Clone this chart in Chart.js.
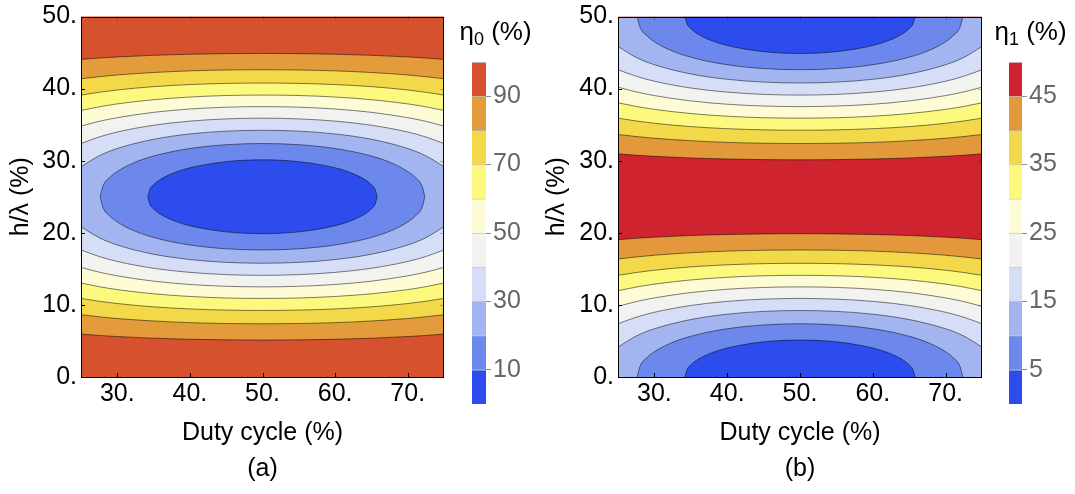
<!DOCTYPE html>
<html>
<head>
<meta charset="utf-8">
<script src="https://cdn.jsdelivr.net/npm/chart.js@4.4.1/dist/chart.umd.min.js"></script>
<style>
body { margin: 0; background: #fff; }
#page { position: relative; width: 1075px; height: 494px; overflow: hidden; }
canvas { position: absolute; top: 0; }
</style>
</head>
<body>
<div id="page">
<canvas id="plotA" width="452" height="494" style="left:0px"></canvas>
<canvas id="barA" width="85" height="494" style="left:455px"></canvas>
<canvas id="plotB" width="454" height="494" style="left:536px"></canvas>
<canvas id="barB" width="85" height="494" style="left:990px"></canvas>
</div>
<script>
var fontFamily = "'Liberation Sans', Arial, sans-serif";

// axes
var dutyTicks = [30, 40, 50, 60, 70];
var heightTicks = [0, 10, 20, 30, 40, 50];
var dutyGrid = [25, 27.5, 30, 35, 40, 45, 50, 55, 60, 65, 70, 72.5, 75];

// panel (a): eta0 contour curves, h/lambda read at each duty cycle of dutyGrid
var eta0BandLevels = [90, 80, 70, 60, 50, 40, 30];
var eta0BandLower = [
    [5.95, 5.76, 5.61, 5.38, 5.23, 5.15, 5.12, 5.15, 5.23, 5.38, 5.61, 5.76, 5.95],
    [8.64, 8.35, 8.11, 7.77, 7.54, 7.42, 7.38, 7.42, 7.54, 7.77, 8.11, 8.35, 8.64],
    [10.90, 10.51, 10.19, 9.73, 9.44, 9.28, 9.23, 9.28, 9.44, 9.73, 10.19, 10.51, 10.90],
    [13.03, 12.53, 12.12, 11.54, 11.17, 10.96, 10.90, 10.96, 11.17, 11.54, 12.12, 12.53, 13.03],
    [15.20, 14.54, 14.03, 13.29, 12.83, 12.58, 12.50, 12.58, 12.83, 13.29, 14.03, 14.54, 15.20],
    [17.62, 16.71, 16.02, 15.08, 14.51, 14.20, 14.10, 14.20, 14.51, 15.08, 16.02, 16.71, 17.62],
    [20.84, 19.32, 18.31, 17.03, 16.29, 15.90, 15.78, 15.90, 16.29, 17.03, 18.31, 19.32, 20.84]
];
var eta0BandUpper = [
    [44.05, 44.24, 44.39, 44.62, 44.77, 44.85, 44.88, 44.85, 44.77, 44.62, 44.39, 44.24, 44.05],
    [41.36, 41.65, 41.89, 42.23, 42.46, 42.58, 42.62, 42.58, 42.46, 42.23, 41.89, 41.65, 41.36],
    [39.10, 39.49, 39.81, 40.27, 40.56, 40.72, 40.77, 40.72, 40.56, 40.27, 39.81, 39.49, 39.10],
    [36.97, 37.47, 37.88, 38.46, 38.83, 39.04, 39.10, 39.04, 38.83, 38.46, 37.88, 37.47, 36.97],
    [34.80, 35.46, 35.97, 36.71, 37.17, 37.42, 37.50, 37.42, 37.17, 36.71, 35.97, 35.46, 34.80],
    [32.38, 33.29, 33.98, 34.92, 35.49, 35.80, 35.90, 35.80, 35.49, 34.92, 33.98, 33.29, 32.38],
    [29.16, 30.68, 31.69, 32.97, 33.71, 34.10, 34.22, 34.10, 33.71, 32.97, 31.69, 30.68, 29.16]
];
var eta0EllipseLevels = [20, 10];
var eta0EllipseDuty = [
    [27.64, 28, 29, 30, 32, 35, 40, 45, 50, 55, 60, 65, 68, 70, 71, 72, 72.36],
    [34.19, 34.5, 35, 36, 38, 40, 45, 50, 55, 60, 62, 64, 65, 65.5, 65.81]
];
var eta0EllipseLower = [
    [25, 23.58, 22.29, 21.50, 20.41, 19.35, 18.31, 17.78, 17.62, 17.78, 18.31, 19.35, 20.41, 21.50, 22.29, 23.58, 25],
    [25, 23.95, 23.33, 22.55, 21.60, 20.98, 20.13, 19.88, 20.13, 20.98, 21.60, 22.55, 23.33, 23.95, 25]
];
var eta0EllipseUpper = [
    [25, 26.42, 27.71, 28.50, 29.59, 30.65, 31.69, 32.22, 32.38, 32.22, 31.69, 30.65, 29.59, 28.50, 27.71, 26.42, 25],
    [25, 26.05, 26.67, 27.45, 28.40, 29.02, 29.87, 30.12, 29.87, 29.02, 28.40, 27.45, 26.67, 26.05, 25]
];
var eta0Bounds = [0, 10, 20, 30, 40, 50, 60, 70, 80, 90, 100];
var eta0Ticks = [10, 30, 50, 70, 90];
var eta0Colors = ["#2d4ced", "#6c88ed", "#a3b5f1", "#d5ddf7", "#f2f3f1",
    "#fefcd4", "#fcf97e", "#f3d94a", "#e39b3c", "#d6522f"];

// panel (b): eta1 contour curves
var eta1BandLevels = [45, 40, 35, 30, 25, 20, 15];
var eta1BandLower = [
    [19.05, 19.24, 19.39, 19.62, 19.77, 19.85, 19.88, 19.85, 19.77, 19.62, 19.39, 19.24, 19.05],
    [16.36, 16.65, 16.89, 17.23, 17.46, 17.58, 17.62, 17.58, 17.46, 17.23, 16.89, 16.65, 16.36],
    [14.10, 14.49, 14.81, 15.27, 15.56, 15.72, 15.77, 15.72, 15.56, 15.27, 14.81, 14.49, 14.10],
    [11.97, 12.47, 12.88, 13.46, 13.83, 14.04, 14.10, 14.04, 13.83, 13.46, 12.88, 12.47, 11.97],
    [9.80, 10.46, 10.97, 11.71, 12.17, 12.42, 12.50, 12.42, 12.17, 11.71, 10.97, 10.46, 9.80],
    [7.38, 8.29, 8.98, 9.92, 10.49, 10.80, 10.90, 10.80, 10.49, 9.92, 8.98, 8.29, 7.38],
    [4.16, 5.68, 6.69, 7.97, 8.71, 9.10, 9.22, 9.10, 8.71, 7.97, 6.69, 5.68, 4.16]
];
var eta1BandUpper = [
    [30.95, 30.76, 30.61, 30.38, 30.23, 30.15, 30.12, 30.15, 30.23, 30.38, 30.61, 30.76, 30.95],
    [33.64, 33.35, 33.11, 32.77, 32.54, 32.42, 32.38, 32.42, 32.54, 32.77, 33.11, 33.35, 33.64],
    [35.90, 35.51, 35.19, 34.73, 34.44, 34.28, 34.23, 34.28, 34.44, 34.73, 35.19, 35.51, 35.90],
    [38.03, 37.53, 37.12, 36.54, 36.17, 35.96, 35.90, 35.96, 36.17, 36.54, 37.12, 37.53, 38.03],
    [40.20, 39.54, 39.03, 38.29, 37.83, 37.58, 37.50, 37.58, 37.83, 38.29, 39.03, 39.54, 40.20],
    [42.62, 41.71, 41.02, 40.08, 39.51, 39.20, 39.10, 39.20, 39.51, 40.08, 41.02, 41.71, 42.62],
    [45.84, 44.32, 43.31, 42.03, 41.29, 40.90, 40.78, 40.90, 41.29, 42.03, 43.31, 44.32, 45.84]
];
var eta1EllipseLevels = [10, 5];
var eta1EllipseDuty = [
    [27.64, 28, 29, 30, 32, 35, 40, 45, 50, 55, 60, 65, 68, 70, 71, 72, 72.36],
    [34.19, 34.5, 35, 36, 38, 40, 45, 50, 55, 60, 62, 64, 65, 65.5, 65.81]
];
var eta1EllipseLower = [
    [0, 1.42, 2.71, 3.50, 4.59, 5.65, 6.69, 7.22, 7.38, 7.22, 6.69, 5.65, 4.59, 3.50, 2.71, 1.42, 0],
    [0, 1.05, 1.67, 2.45, 3.40, 4.02, 4.88, 5.12, 4.88, 4.02, 3.40, 2.45, 1.67, 1.05, 0]
];
var eta1EllipseUpper = [
    [50, 48.58, 47.29, 46.50, 45.41, 44.35, 43.31, 42.78, 42.62, 42.78, 43.31, 44.35, 45.41, 46.50, 47.29, 48.58, 50],
    [50, 48.95, 48.33, 47.55, 46.60, 45.98, 45.12, 44.88, 45.12, 45.98, 46.60, 47.55, 48.33, 48.95, 50]
];
var eta1Bounds = [0, 5, 10, 15, 20, 25, 30, 35, 40, 45, 50];
var eta1Ticks = [5, 15, 25, 35, 45];
var eta1Colors = ["#2d4ced", "#6c88ed", "#a3b5f1", "#d5ddf7", "#f2f3f1",
    "#fefcd4", "#fcf97e", "#f3d94a", "#e2983b", "#cf2330"];

var lineColor = "rgba(0,0,0,0.5)";

function curve(xs, ys) {
    return xs.map(function (x, j) {
        return { x: x, y: ys[j] };
    });
}

function contourLine(points, color, fill) {
    return {
        data: points,
        borderColor: lineColor,
        borderWidth: 1,
        backgroundColor: color,
        fill: fill,
        pointRadius: 0,
        cubicInterpolationMode: "monotone",
    };
}

// mode "between": region under a level lies between the two curves (panel a)
// mode "edges": region under a level touches the bottom and top frame (panel b)
function contourSets(levels, duties, lowers, uppers, bounds, colors, mode) {
    var sets = [];
    levels.forEach(function (level, i) {
        var color = colors[bounds.indexOf(level) - 1];
        var xs = Array.isArray(duties[0]) ? duties[i] : duties;
        sets.push(contourLine(curve(xs, lowers[i]), color, mode == "between" ? "+1" : "start"));
        sets.push(contourLine(curve(xs, uppers[i]), color, mode == "between" ? false : "end"));
    });
    return sets;
}

function orderSets(sets) {
    sets.forEach(function (s, i) {
        s.order = sets.length - i;
    });
    return sets;
}

var framePlugin = {
    id: "frame",
    beforeDatasetsDraw: function (chart, args, opts) {
        var a = chart.chartArea;
        var ctx = chart.ctx;
        ctx.save();
        ctx.fillStyle = opts.background;
        ctx.fillRect(a.left, a.top, a.right - a.left, a.bottom - a.top);
        ctx.restore();
    },
    afterDatasetsDraw: function (chart) {
        var a = chart.chartArea;
        var ctx = chart.ctx;
        var x = chart.scales.x;
        var y = chart.scales.y;
        ctx.save();
        ctx.lineWidth = 1;
        ctx.strokeStyle = "#000";
        ctx.beginPath();
        dutyTicks.forEach(function (v) {
            var px = Math.round(x.getPixelForValue(v)) + 0.5;
            ctx.moveTo(px, a.bottom);
            ctx.lineTo(px, a.bottom - 4);
        });
        heightTicks.forEach(function (v) {
            var py = Math.round(y.getPixelForValue(v)) + 0.5;
            ctx.moveTo(a.left, py);
            ctx.lineTo(a.left + 4, py);
        });
        ctx.stroke();
        ctx.strokeStyle = "rgba(0,0,0,0.25)";
        ctx.beginPath();
        dutyTicks.forEach(function (v) {
            var px = Math.round(x.getPixelForValue(v)) + 0.5;
            ctx.moveTo(px, a.top);
            ctx.lineTo(px, a.top + 4);
        });
        heightTicks.forEach(function (v) {
            var py = Math.round(y.getPixelForValue(v)) + 0.5;
            ctx.moveTo(a.right, py);
            ctx.lineTo(a.right - 4, py);
        });
        ctx.stroke();
        ctx.strokeStyle = "#000";
        ctx.strokeRect(Math.round(a.left) + 0.5, Math.round(a.top) + 0.5,
            Math.round(a.right - a.left) - 1, Math.round(a.bottom - a.top) - 1);
        ctx.restore();
    },
};

var legendTitlePlugin = {
    id: "legendTitle",
    afterDraw: function (chart, args, opts) {
        var ctx = chart.ctx;
        var x = opts.x;
        ctx.save();
        ctx.fillStyle = "#000";
        ctx.textBaseline = "alphabetic";
        ctx.font = "26px " + fontFamily;
        ctx.fillText("η", x, opts.y);
        x += ctx.measureText("η").width;
        ctx.font = "18px " + fontFamily;
        ctx.fillText(opts.sub, x, opts.y + 5);
        x += ctx.measureText(opts.sub).width;
        ctx.font = "26px " + fontFamily;
        ctx.fillText(" (%)", x, opts.y);
        ctx.restore();
    },
};

function makePlot(id, sets, background, label, axisWidth, rightPad) {
    var font = { family: fontFamily, size: 25, lineHeight: 1.2 };
    return new Chart(document.getElementById(id), {
        type: "line",
        data: { datasets: sets },
        options: {
            animation: false,
            responsive: false,
            events: [],
            layout: { padding: { top: 14, right: rightPad, bottom: 0, left: 0 } },
            plugins: {
                legend: { display: false },
                tooltip: { enabled: false },
                title: {
                    display: true,
                    text: label,
                    position: "bottom",
                    fullSize: false,
                    color: "#000",
                    font: { family: fontFamily, size: 25, weight: "normal", lineHeight: 1.2 },
                    padding: { top: 3, bottom: 9.8 },
                },
                frame: { background: background },
            },
            scales: {
                x: {
                    type: "linear",
                    min: 25,
                    max: 75,
                    afterBuildTicks: function (s) {
                        s.ticks = dutyTicks.map(function (v) { return { value: v }; });
                    },
                    afterFit: function (s) {
                        s.height = 74.2;
                    },
                    grid: { display: false, drawTicks: false },
                    border: { display: false },
                    ticks: {
                        padding: 5,
                        color: "#000",
                        maxRotation: 0,
                        autoSkip: false,
                        font: { family: fontFamily, size: 25, lineHeight: 1 },
                        callback: function (v) { return v + "."; },
                    },
                    title: {
                        display: true,
                        text: "Duty cycle (%)",
                        color: "#000",
                        font: font,
                        padding: { top: 0, bottom: 3 },
                    },
                },
                y: {
                    type: "linear",
                    min: 0,
                    max: 50,
                    afterBuildTicks: function (s) {
                        s.ticks = heightTicks.map(function (v) { return { value: v }; });
                    },
                    afterFit: function (s) {
                        s.width = axisWidth;
                    },
                    grid: { display: false, drawTicks: false },
                    border: { display: false },
                    ticks: {
                        padding: 4,
                        color: "#000",
                        autoSkip: false,
                        font: { family: fontFamily, size: 25, lineHeight: 1 },
                        callback: function (v) { return v + "."; },
                    },
                    title: {
                        display: true,
                        text: "h/λ (%)",
                        color: "#000",
                        font: font,
                        padding: { top: 6, bottom: 0 },
                    },
                },
            },
        },
        plugins: [framePlugin],
    });
}

function makeColorBar(id, bounds, colors, ticks, sub, padLeft, axisWidth) {
    var sets = colors.map(function (c, i) {
        return {
            data: [bounds[i + 1] - bounds[i]],
            backgroundColor: c,
            borderColor: "rgba(0,0,0,0.2)",
            borderWidth: { top: 1 },
            borderSkipped: false,
            barPercentage: 1,
            categoryPercentage: 1,
        };
    });
    return new Chart(document.getElementById(id), {
        type: "bar",
        data: { labels: [""], datasets: sets },
        options: {
            animation: false,
            responsive: false,
            events: [],
            layout: { padding: { top: 62, right: 0, bottom: 90, left: padLeft } },
            plugins: {
                legend: { display: false },
                tooltip: { enabled: false },
                legendTitle: { x: 4.5, y: 40, sub: sub },
            },
            scales: {
                x: { stacked: true, display: false },
                y: {
                    stacked: true,
                    position: "right",
                    min: bounds[0],
                    max: bounds[bounds.length - 1],
                    afterBuildTicks: function (s) {
                        s.ticks = ticks.map(function (v) { return { value: v }; });
                    },
                    afterFit: function (s) {
                        s.width = axisWidth;
                    },
                    grid: { drawOnChartArea: false, drawTicks: true, tickLength: 5, color: "#8c8c8c" },
                    border: { display: false },
                    ticks: {
                        padding: 2,
                        color: "#666",
                        autoSkip: false,
                        font: { family: fontFamily, size: 25, lineHeight: 1 },
                    },
                },
            },
        },
        plugins: [legendTitlePlugin],
    });
}

function run() {
    var setsA = contourSets(eta0BandLevels, dutyGrid, eta0BandLower, eta0BandUpper, eta0Bounds, eta0Colors, "between")
        .concat(contourSets(eta0EllipseLevels, eta0EllipseDuty, eta0EllipseLower, eta0EllipseUpper, eta0Bounds, eta0Colors, "between"));
    var setsB = contourSets(eta1BandLevels, dutyGrid, eta1BandLower, eta1BandUpper, eta1Bounds, eta1Colors, "edges")
        .concat(contourSets(eta1EllipseLevels, eta1EllipseDuty, eta1EllipseLower, eta1EllipseUpper, eta1Bounds, eta1Colors, "edges"));

    makePlot("plotA", orderSets(setsA), eta0Colors[eta0Colors.length - 1], "(a)", 81, 8);
    makePlot("plotB", orderSets(setsB), eta1Colors[eta1Colors.length - 1], "(b)", 82, 8);
    makeColorBar("barA", eta0Bounds, eta0Colors, eta0Ticks, "0", 17, 54);
    makeColorBar("barB", eta1Bounds, eta1Colors, eta1Ticks, "1", 19, 53);
}

run();
</script>
</body>
</html>
